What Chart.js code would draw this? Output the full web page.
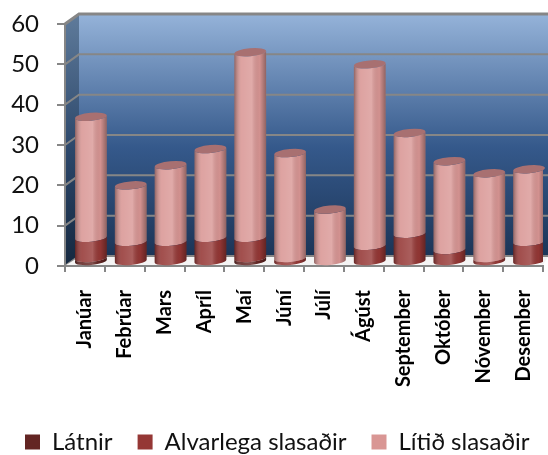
<!DOCTYPE html>
<html>
<head>
<meta charset="utf-8">
<style>
  html, body { margin: 0; padding: 0; background: #fff; overflow: hidden; }
  #wrap { width: 548px; height: 455px; overflow: hidden; }
</style>
<script src="https://cdn.jsdelivr.net/npm/chart.js@4"></script>
</head>
<body>
<div id="wrap"><canvas id="my-chart" style="width:700px;height:464px"></canvas></div>
<script>
const months = ["Janúar", "Febrúar", "Mars", "Apríl", "Maí", "Júní", "Júlí", "Ágúst", "September", "Október", "Nóvember", "Desember"];
const latnir = [1, 0, 0, 0, 1, 0, 0, 0, 0, 0, 0, 0];
const alvarlega = [5, 5, 5, 6, 5, 1, 0, 4, 7, 3, 1, 5];
const litid = [30, 14, 19, 22, 46, 26, 13, 45, 25, 22, 21, 18];

// how far the back wall and the bars sit from the front axes
const wallX = 14;
const wallY = 10;
const barX = 6;
const barY = -4;
const tilt = -0.09;
const capRy = 4;

// draw bars as cylinders instead of flat boxes
Chart.BarElement.prototype.draw = function (ctx) {
  const { x, y, base, width } = this.getProps(["x", "y", "base", "width"], true);
  if (Math.abs(base - y) < 0.5) return;
  const cx = x + barX;
  const rx = width / 2;
  ctx.save();
  ctx.translate(0, barY);
  ctx.beginPath();
  ctx.ellipse(cx, base, rx, capRy, tilt, 0, Math.PI);
  ctx.ellipse(cx, y, rx, capRy, tilt, Math.PI, 0, true);
  ctx.closePath();
  ctx.fillStyle = this.options.backgroundColor;
  ctx.fill();
  const shade = ctx.createLinearGradient(cx - rx, 0, cx + rx, 0);
  shade.addColorStop(0, "rgba(0,0,0,0.34)");
  shade.addColorStop(0.22, "rgba(255,255,255,0.12)");
  shade.addColorStop(0.55, "rgba(255,255,255,0.2)");
  shade.addColorStop(0.8, "rgba(0,0,0,0.03)");
  shade.addColorStop(1, "rgba(0,0,0,0.34)");
  ctx.fillStyle = shade;
  ctx.fill();
  ctx.restore();
};

const wallPlugin = {
  id: "wall",
  beforeDraw(chart) {
    const { ctx, chartArea: a, scales } = chart;
    const rightEdge = 548;
    ctx.save();

    // back wall
    const back = ctx.createLinearGradient(0, a.top - wallY, 0, a.bottom - wallY);
    back.addColorStop(0, "#95b3d9");
    back.addColorStop(0.55, "#35598b");
    back.addColorStop(1, "#1c3557");
    ctx.fillStyle = back;
    ctx.fillRect(a.left + wallX, a.top - wallY, rightEdge - a.left - wallX, a.bottom - a.top);

    // side wall
    const side = ctx.createLinearGradient(0, a.top - wallY, 0, a.bottom);
    side.addColorStop(0, "#5f7b9b");
    side.addColorStop(0.55, "#2b4669");
    side.addColorStop(1, "#15283f");
    ctx.fillStyle = side;
    ctx.beginPath();
    ctx.moveTo(a.left, a.top);
    ctx.lineTo(a.left + wallX, a.top - wallY);
    ctx.lineTo(a.left + wallX, a.bottom - wallY);
    ctx.lineTo(a.left, a.bottom);
    ctx.closePath();
    ctx.fill();

    // grid on both walls
    ctx.strokeStyle = "#868686";
    scales.y.ticks.forEach(t => {
      const py = scales.y.getPixelForValue(t.value);
      ctx.lineWidth = t.value === 60 ? 3 : 2;
      ctx.beginPath();
      ctx.moveTo(a.left, py);
      ctx.lineTo(a.left + wallX, py - wallY);
      ctx.lineTo(rightEdge, py - wallY);
      ctx.stroke();
    });

    // floor shadow
    ctx.fillStyle = "#f4f4f4";
    ctx.beginPath();
    ctx.moveTo(a.left + 1, a.bottom - 1);
    ctx.lineTo(a.left + wallX, a.bottom - wallY + 1);
    ctx.lineTo(rightEdge, a.bottom - wallY + 1);
    ctx.lineTo(a.right, a.bottom - 1);
    ctx.closePath();
    ctx.fill();
    ctx.restore();
  },
  afterDatasetsDraw(chart) {
    // lids on the top series
    const { ctx } = chart;
    const bars = chart.getDatasetMeta(2).data;
    ctx.save();
    ctx.fillStyle = "#a87071";
    bars.forEach(b => {
      ctx.beginPath();
      ctx.ellipse(b.x + barX, b.y + barY, b.width / 2, capRy, tilt, 0, Math.PI * 2);
      ctx.fill();
    });
    ctx.restore();
  }
};

const ctx = document.getElementById("my-chart").getContext("2d");

new Chart(ctx, {
  type: "bar",
  data: {
    labels: months,
    datasets: [
      { label: "Látnir", data: latnir, backgroundColor: "#632523" },
      { label: "Alvarlega slasaðir", data: alvarlega, backgroundColor: "#953735" },
      { label: "Lítið slasaðir", data: litid, backgroundColor: "#d99694" }
    ]
  },
  plugins: [wallPlugin],
  options: {
    responsive: false,
    animation: false,
    devicePixelRatio: 1,
    layout: { padding: { top: 24, right: 0, left: 0, bottom: 0 } },
    datasets: { bar: { barPercentage: 0.8, categoryPercentage: 1 } },
    plugins: {
      tooltip: { enabled: false },
      legend: {
        position: "bottom",
        align: "start",
        labels: {
          boxWidth: 15,
          boxHeight: 15,
          padding: 25,
          color: "#111",
          font: { family: "Lato", size: 24 }
        }
      }
    },
    scales: {
      x: {
        stacked: true,
        afterFit(scale) { scale.height = 139; },
        border: { color: "#868686", width: 2 },
        grid: { drawOnChartArea: false, color: "#868686", lineWidth: 2, tickLength: 6 },
        ticks: {
          autoSkip: false,
          minRotation: 90,
          maxRotation: 90,
          padding: 18,
          color: "#000",
          font: { family: "Lato", size: 20, weight: "bold" }
        }
      },
      y: {
        stacked: true,
        min: 0,
        max: 60,
        afterFit(scale) {
          scale.width = 65;
          scale.paddingTop = 0;
          scale.paddingBottom = 0;
        },
        border: { color: "#868686", width: 2 },
        grid: { drawOnChartArea: false, color: "#868686", lineWidth: 2, tickLength: 8 },
        ticks: {
          stepSize: 10,
          padding: 18,
          color: "#111",
          font: { family: "Lato", size: 24 }
        }
      },
      // empty axis, only holds the plot area away from the clipped right side
      spacer: {
        type: "linear",
        position: "right",
        afterFit(scale) {
          scale.width = 157;
          scale.paddingTop = 0;
          scale.paddingBottom = 0;
        },
        border: { display: false },
        grid: { display: false },
        ticks: { display: false }
      }
    }
  }
});
</script>
</body>
</html>
